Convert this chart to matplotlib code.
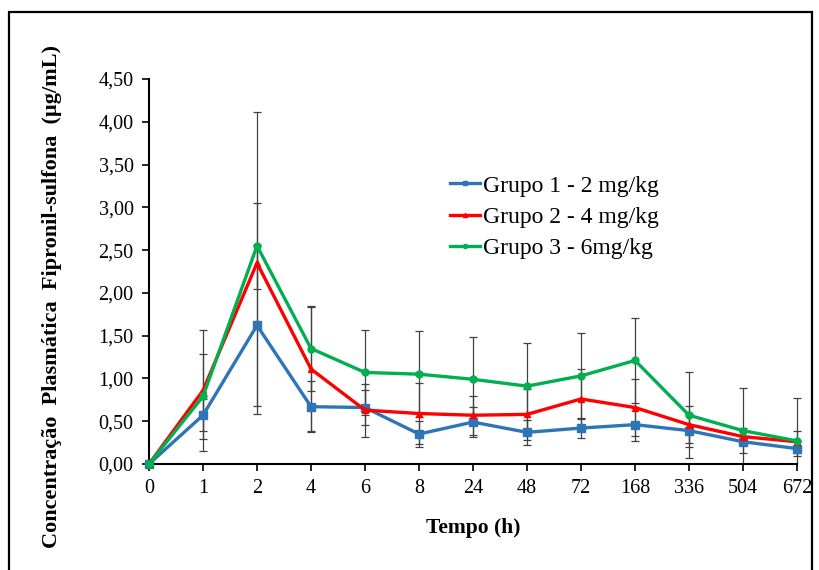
import matplotlib
matplotlib.use("Agg")
import matplotlib.pyplot as plt
from matplotlib.patches import Rectangle
from matplotlib.ticker import FuncFormatter

plt.rcParams['font.family'] = ['Liberation Serif', 'DejaVu Serif']

tempo = ["0", "1", "2", "4", "6", "8", "24", "48", "72", "168", "336", "504", "672"]

grupo1 = [0, 0.57, 1.62, 0.67, 0.66, 0.35, 0.49, 0.37, 0.42, 0.46, 0.39, 0.26, 0.18]
grupo1_err = [0, 0.19, 0.94, 0.30, 0.20, 0.15, 0.18, 0.15, 0.12, 0.19, 0.19, 0.13, 0.09]

grupo2 = [0, 0.86, 2.35, 1.11, 0.63, 0.59, 0.57, 0.58, 0.76, 0.66, 0.46, 0.32, 0.26]
grupo2_err = [0, 0.71, 1.76, 0.72, 0.31, 0.36, 0.23, 0.30, 0.35, 0.33, 0.22, 0.10, 0.13]

grupo3 = [0, 0.79, 2.55, 1.35, 1.07, 1.05, 0.99, 0.91, 1.03, 1.21, 0.57, 0.39, 0.27]
grupo3_err = [0, 0.50, 0.50, 0.50, 0.50, 0.50, 0.50, 0.50, 0.50, 0.50, 0.50, 0.50, 0.50]

labels = ["Grupo 1 - 2 mg/kg", "Grupo 2 - 4 mg/kg", "Grupo 3 - 6mg/kg"]
colors = ["#2E75B6", "#FF0000", "#00B050"]
markers = ["s", "^", "o"]
msizes = [6, 5, 5]

fig = plt.figure(figsize=(8.19, 5.70), dpi=100)
ax = fig.add_axes([149/819, 1 - 464/570, (797 - 149)/819, (464 - 79)/570])

x = list(range(len(tempo)))
series = [(grupo1, grupo1_err), (grupo2, grupo2_err), (grupo3, grupo3_err)]

clip_rect = Rectangle((-0.5, 0), len(tempo), 10, transform=ax.transData,
                      fill=False, visible=False)
ax.add_patch(clip_rect)

handles = []
for i, (vals, errs) in enumerate(series):
    cont = ax.errorbar(x, vals, yerr=errs, fmt='none', ecolor='#404040', elinewidth=0.9,
                       capsize=3, capthick=0.9, zorder=2)
    for art in list(cont.lines[1]) + list(cont.lines[2]):
        art.set_clip_path(clip_rect)
for i, (vals, errs) in enumerate(series):
    h, = ax.plot(x, vals, color=colors[i], lw=2.4, marker=markers[i], ms=msizes[i],
                 zorder=3 + i, label=labels[i], clip_on=False)
    handles.append(h)

ax.set_xlim(0, len(tempo) - 1)
ax.set_ylim(0, 4.5)
ax.set_xticks(x)
ax.set_xticklabels(tempo)
ax.set_yticks([i * 0.5 for i in range(10)])
ax.yaxis.set_major_formatter(FuncFormatter(lambda v, p: f"{v:.2f}".replace('.', ',')))
ax.tick_params(axis='both', direction='out', length=5, width=1.2, labelsize=14.5, colors='black')
ax.tick_params(axis='y', pad=6)
ax.tick_params(axis='x', pad=6)
for s in ['top', 'right']:
    ax.spines[s].set_visible(False)
for s in ['left', 'bottom']:
    ax.spines[s].set_linewidth(1.5)

ax.set_xlabel("Tempo (h)", fontsize=15.5, fontweight='bold', labelpad=14)
fig.text(52/819, 1 - 297/570, "Concentração  Plasmática  Fipronil-sulfona  (µg/mL)",
         rotation=90, fontsize=16, fontweight='bold', ha='center', va='center')

leg = fig.legend(handles=handles, labels=labels, loc='upper left',
                 bbox_to_anchor=(450/819, 1 - 175/570), frameon=False,
                 fontsize=17, handlelength=1.27, handletextpad=0.13,
                 labelspacing=0.42, borderpad=0, borderaxespad=0, markerscale=0.6)

fig.patches.append(Rectangle((9/819, -0.05), (812 - 9)/819, 1.05 - 12/570,
                             transform=fig.transFigure, fill=False, edgecolor='black',
                             lw=1.6, zorder=10))

fig.savefig("out.png", dpi=100)
